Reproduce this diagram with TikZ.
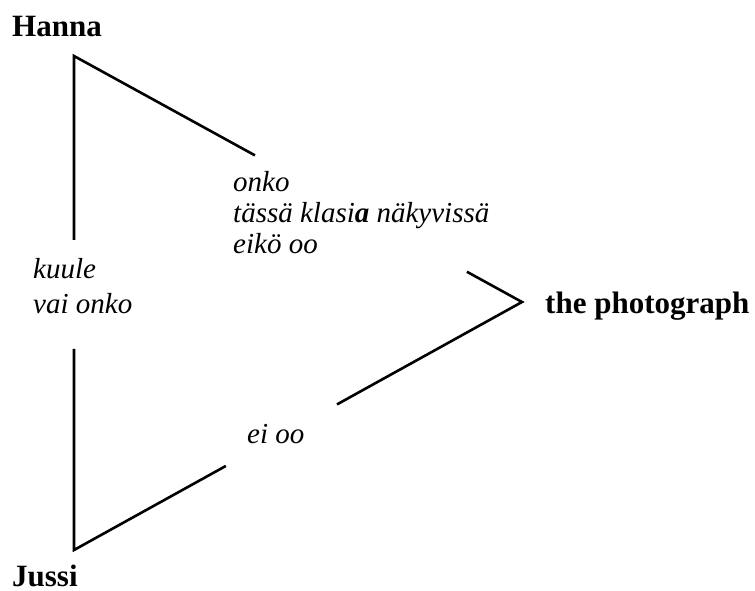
\documentclass[tikz,border=0pt]{standalone}
\usepackage{fontspec}
\setmainfont{Liberation Serif}
\usetikzlibrary{calc}

\begin{document}
\begin{tikzpicture}[
  x=1pt, y=-1pt,
  person/.style={inner sep=0pt, anchor=base west, font=\fontsize{31}{34}\selectfont\bfseries},
  talk/.style={inner sep=0pt, anchor=base west, align=left, font=\fontsize{29}{31}\selectfont\itshape},
  side/.style={line width=2.6pt, line join=miter}
]
\useasboundingbox (0,0) rectangle (755,590);

% corners of the triangle
\coordinate (hanna) at (74,56);
\coordinate (jussi) at (74,550);
\coordinate (photo) at (522,302);

% where the sides break off for the talk
\coordinate (hj) at ($(hanna)!0.372!(jussi)$);
\coordinate (jh) at ($(jussi)!0.407!(hanna)$);
\coordinate (hp) at ($(hanna)!0.404!(photo)$);
\coordinate (ph) at ($(photo)!0.123!(hanna)$);
\coordinate (jp) at ($(jussi)!0.339!(photo)$);
\coordinate (pj) at ($(photo)!0.413!(jussi)$);

\node[person] (hannaname) at (12,36) {Hanna};
\node[person] (jussiname) at (12,586) {Jussi};
\node[person] (photoname) at (545,313) {the photograph};

% base of a multi-line node is its last line
\node[talk] (kuule) at (33,313) {kuule\\[4pt]vai onko};
\node[talk] (onko) at (233,253) {onko\\tässä klasi\textbf{a} näkyvissä\\eikö oo};
\node[talk] (eioo) at (247,443) {ei oo};

\draw[side] (hj) -- (hanna) -- (hp);
\draw[side] (ph) -- (photo) -- (pj);
\draw[side] (jp) -- (jussi) -- (jh);
\end{tikzpicture}
\end{document}
